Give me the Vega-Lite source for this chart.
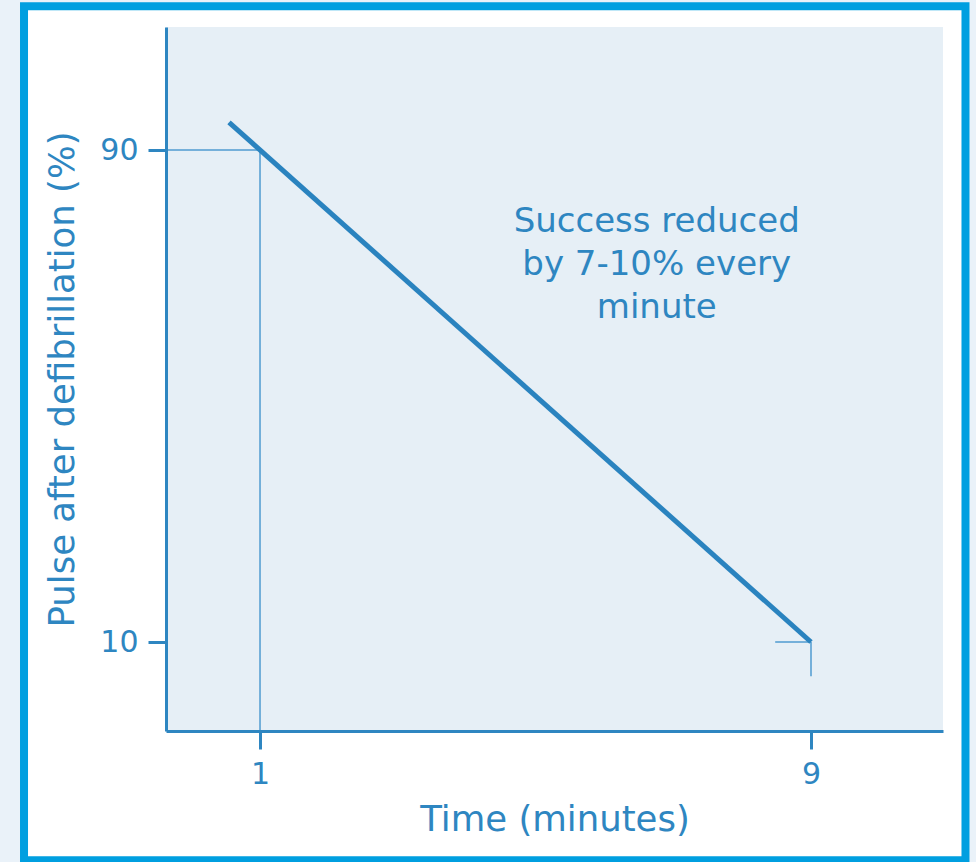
{
  "$schema": "https://vega.github.io/schema/vega-lite/v6.json",
  "width": 777,
  "height": 704,
  "autosize": "none",
  "padding": {"left": 166, "top": 27, "right": 33, "bottom": 131},
  "background": "#eaf2f9",
  "config": {
    "view": {"stroke": null},
    "font": "DejaVu Sans",
    "axis": {
      "domainColor": "#2e86c1",
      "domainWidth": 3,
      "tickColor": "#2e86c1",
      "tickWidth": 3,
      "tickSize": 18,
      "grid": false,
      "labelColor": "#2e86c1",
      "labelFont": "DejaVu Sans",
      "labelFontSize": 30,
      "labelPadding": 10,
      "titleColor": "#2e86c1",
      "titleFont": "DejaVu Sans",
      "titleFontSize": 35.5,
      "titleFontWeight": "normal"
    }
  },
  "datasets": {
    "series": [
      {"time": 0.55, "pulse": 94.5},
      {"time": 9, "pulse": 10}
    ],
    "guides": [
      {"x1": -0.365, "x2": 1, "y1": 90, "y2": 90},
      {"x1": 1, "x2": 1, "y1": 90, "y2": -4.47},
      {"x1": 8.48, "x2": 9, "y1": 10, "y2": 10},
      {"x1": 9, "x2": 9, "y1": 10, "y2": 4.45}
    ],
    "note": [
      {"time": 6.76, "pulse": 78.3, "label": ["Success reduced", "by 7-10% every", "minute"]}
    ]
  },
  "layer": [
    {
      "data": {"values": [{}]},
      "mark": {"type": "rect", "fill": "#ffffff", "stroke": "#009fe0", "strokeWidth": 8},
      "encoding": {
        "x": {
          "datum": -2.4265, "type": "quantitative",
          "scale": {"domain": [-0.365, 10.9165], "nice": false, "zero": false},
          "title": "Time (minutes)",
          "axis": {"values": [1, 9], "format": "d", "titlePadding": 13, "zindex": 3}
        },
        "x2": {"datum": 11.243},
        "y": {
          "datum": 113.39, "type": "quantitative",
          "scale": {"domain": [-4.47, 110], "nice": false, "zero": false},
          "title": "Pulse after defibrillation (%)",
          "axis": {"values": [10, 90], "format": "d", "titlePadding": 19, "zindex": 3}
        },
        "y2": {"datum": -25.5}
      }
    },
    {
      "data": {"values": [{}]},
      "mark": {"type": "rect", "fill": "#e6eff6"},
      "encoding": {
        "x": {"datum": -0.365, "type": "quantitative", "title": "Time (minutes)"},
        "x2": {"datum": 10.9165},
        "y": {"datum": 110, "type": "quantitative", "title": "Pulse after defibrillation (%)"},
        "y2": {"datum": -4.47}
      }
    },
    {
      "data": {"name": "guides"},
      "mark": {"type": "rule", "color": "#4f9bd0", "strokeWidth": 1.5},
      "encoding": {
        "x": {"field": "x1", "type": "quantitative", "title": "Time (minutes)"},
        "x2": {"field": "x2"},
        "y": {"field": "y1", "type": "quantitative", "title": "Pulse after defibrillation (%)"},
        "y2": {"field": "y2"}
      }
    },
    {
      "data": {"name": "series"},
      "mark": {"type": "line", "color": "#2a83bf", "strokeWidth": 5},
      "encoding": {
        "x": {"field": "time", "type": "quantitative", "title": "Time (minutes)"},
        "y": {"field": "pulse", "type": "quantitative", "title": "Pulse after defibrillation (%)"}
      }
    },
    {
      "data": {"name": "note"},
      "mark": {"type": "text", "color": "#2e86c1", "fontSize": 34, "lineHeight": 43, "align": "center", "baseline": "middle", "font": "DejaVu Sans"},
      "encoding": {
        "x": {"field": "time", "type": "quantitative", "title": "Time (minutes)"},
        "y": {"field": "pulse", "type": "quantitative", "title": "Pulse after defibrillation (%)"},
        "text": {"field": "label"}
      }
    }
  ]
}
